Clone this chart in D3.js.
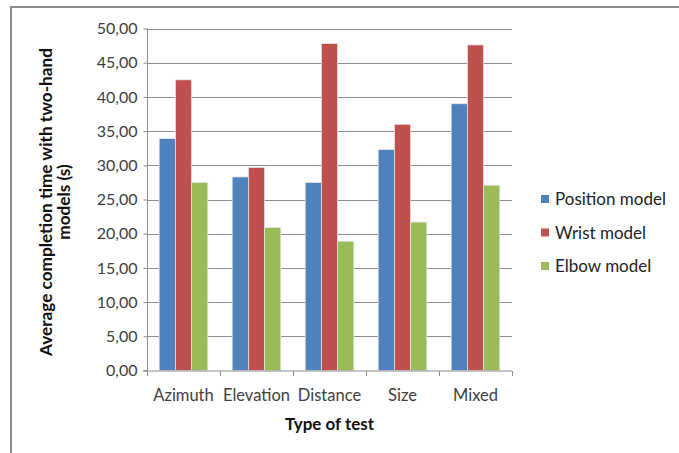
<!DOCTYPE html>
<html>
<head>
<meta charset="utf-8">
<script src="https://cdn.jsdelivr.net/npm/d3@7/dist/d3.min.js"></script>
<style>
  html, body { margin: 0; padding: 0; background: #fff; }
  svg { display: block; font-family: Lato, "Open Sans", "Liberation Sans", sans-serif; }
</style>
</head>
<body>
<script>
// Test types along the x axis
const categories = ["Azimuth", "Elevation", "Distance", "Size", "Mixed"];
// Series names and colours
const seriesNames = ["Position model", "Wrist model", "Elbow model"];
const seriesColors = ["#4f81bd", "#c0504d", "#9bbb59"];
// Average completion time (s) per test type
const positionModel = [33.9, 28.3, 27.5, 32.3, 39.0];
const wristModel = [42.5, 29.7, 47.8, 36.0, 47.6];
const elbowModel = [27.5, 20.9, 18.9, 21.7, 27.1];
// Y axis ticks
const yTicks = [0, 5, 10, 15, 20, 25, 30, 35, 40, 45, 50];

const W = 679, H = 453;
const svg = d3.select("body").append("svg").attr("width", W).attr("height", H);

// outer frame (top and left edges)
svg.append("line").attr("x1", 11).attr("x2", W).attr("y1", 7).attr("y2", 7)
  .attr("stroke", "#8c8c8c").attr("stroke-width", 2);
svg.append("line").attr("x1", 11).attr("x2", 11).attr("y1", 6).attr("y2", H)
  .attr("stroke", "#8c8c8c").attr("stroke-width", 2);

const plot = { left: 147, right: 512, top: 28.5, bottom: 370.5 };

const x = d3.scaleBand().domain(categories).range([plot.left, plot.right]).paddingInner(0).paddingOuter(0);
const y = d3.scaleLinear().domain([0, 50]).range([plot.bottom, plot.top]);
// three bars per group with a gap of 1.5 bar widths between groups
const xInner = d3.scaleBand().domain(d3.range(seriesNames.length))
  .range([0, x.bandwidth()]).paddingInner(0).paddingOuter(0.75);

// horizontal gridlines
svg.append("g").selectAll("line").data(yTicks.filter(t => t > 0)).join("line")
  .attr("x1", plot.left).attr("x2", plot.right)
  .attr("y1", d => Math.round(y(d)) + 0.5).attr("y2", d => Math.round(y(d)) + 0.5)
  .attr("stroke", "#8c8c8c").attr("stroke-width", 1);

// bars
const data = [positionModel, wristModel, elbowModel];
const groups = svg.append("g").selectAll("g").data(categories).join("g")
  .attr("transform", d => `translate(${x(d)},0)`);
groups.selectAll("rect").data((c, i) => data.map((s, k) => ({ k, v: s[i] }))).join("rect")
  .attr("x", d => xInner(d.k))
  .attr("width", xInner.bandwidth())
  .attr("y", d => y(d.v))
  .attr("height", d => y(0) - y(d.v))
  .attr("fill", d => seriesColors[d.k])
  .attr("stroke", "#e6e6e6").attr("stroke-width", 0.8);

// y axis
const yAxis = d3.axisLeft(y).tickValues(yTicks).tickSize(4).tickPadding(6)
  .tickFormat(d => d3.format(".2f")(d).replace(".", ","));
const gy = svg.append("g").attr("transform", `translate(${plot.left + 0.5},0)`).call(yAxis);
gy.select(".domain").attr("stroke", "#8c8c8c").attr("d", `M-4,${plot.bottom}H0V${plot.top}`);
gy.selectAll(".tick line").attr("stroke", "#8c8c8c");
gy.selectAll(".tick text").attr("font-size", 16).attr("fill", "#404040")
  .attr("font-family", "Lato, 'Open Sans', sans-serif");

// x axis
const gx = svg.append("g").attr("transform", `translate(0,${plot.bottom + 0.5})`);
gx.append("line").attr("x1", plot.left - 4).attr("x2", plot.right).attr("y1", 0).attr("y2", 0)
  .attr("stroke", "#8c8c8c");
const boundaries = categories.map(c => x(c)).concat([plot.right]);
gx.selectAll("line.tk").data(boundaries).join("line").attr("class", "tk")
  .attr("x1", d => Math.round(d) + 0.5).attr("x2", d => Math.round(d) + 0.5)
  .attr("y1", 0).attr("y2", 5).attr("stroke", "#8c8c8c");
gx.selectAll("text").data(categories).join("text")
  .attr("x", d => x(d) + x.bandwidth() / 2).attr("y", 30)
  .attr("text-anchor", "middle").attr("font-size", 16.5).attr("fill", "#404040")
  .text(d => d);

// axis titles
svg.append("text").attr("x", (plot.left + plot.right) / 2).attr("y", 430)
  .attr("text-anchor", "middle").attr("font-size", 17).attr("font-weight", "bold")
  .attr("fill", "#111").text("Type of test");
const yt = svg.append("text").attr("transform", "translate(52,202) rotate(-90)")
  .attr("text-anchor", "middle").attr("font-size", 17.2).attr("font-weight", "bold").attr("fill", "#111");
yt.append("tspan").attr("x", 0).attr("dy", 0).text("Average completion time with two-hand");
yt.append("tspan").attr("x", 0).attr("dy", 18).text("models (s)");

// legend
const lg = svg.append("g").selectAll("g").data(seriesNames).join("g")
  .attr("transform", (d, i) => `translate(541,${199 + i * 33.5})`);
lg.append("rect").attr("x", 0).attr("y", -4).attr("width", 8).attr("height", 8)
  .attr("fill", (d, i) => seriesColors[i]);
lg.append("text").attr("x", 14).attr("y", 6).attr("font-size", 17).attr("fill", "#222").text(d => d);
</script>
</body>
</html>
